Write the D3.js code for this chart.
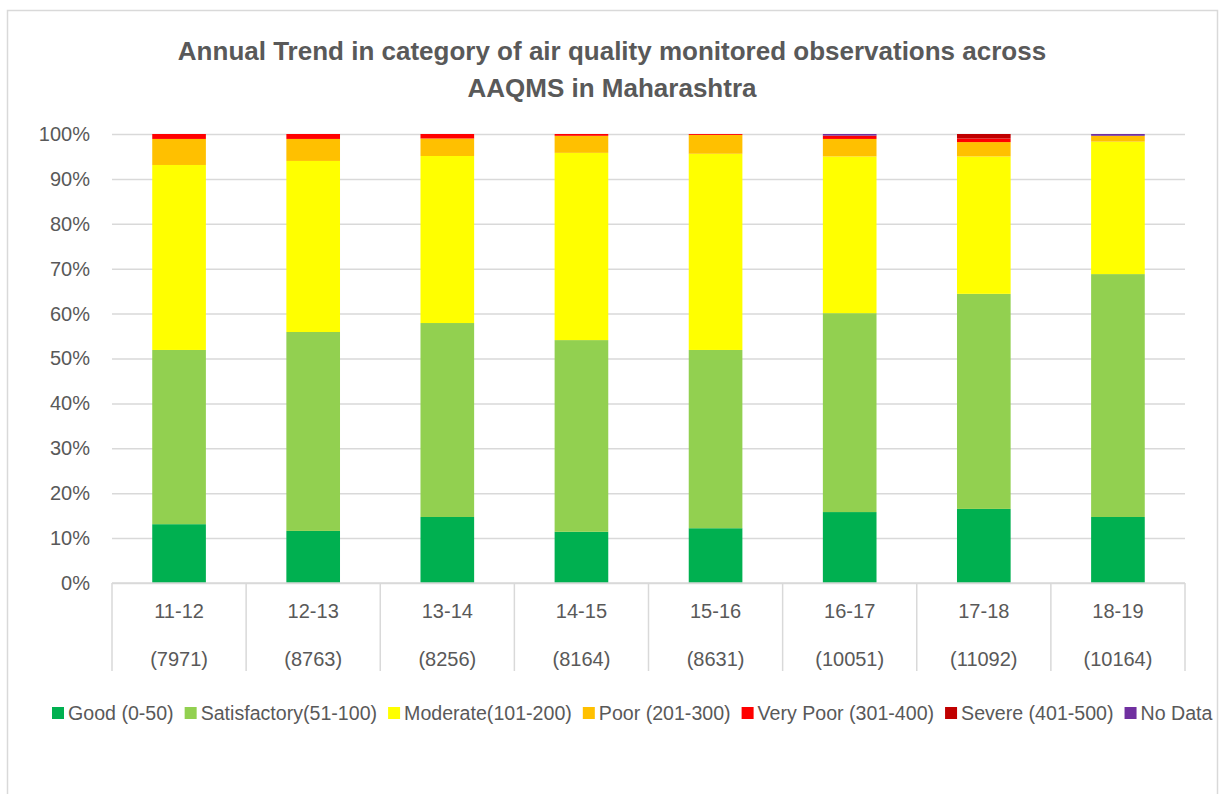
<!DOCTYPE html>
<html>
<head>
<meta charset="utf-8">
<script src="https://cdn.jsdelivr.net/npm/d3@7"></script>
<style>
  body { margin: 0; background: #fff; }
  svg text { font-family: "Liberation Sans", Arial, sans-serif; fill: #595959; }
</style>
</head>
<body>
<svg id="chart" width="1223" height="794"></svg>
<script>
const years = ['11-12', '12-13', '13-14', '14-15', '15-16', '16-17', '17-18', '18-19'];
const counts = ['(7971)', '(8763)', '(8256)', '(8164)', '(8631)', '(10051)', '(11092)', '(10164)'];

const categories = ['Good (0-50)', 'Satisfactory(51-100)', 'Moderate(101-200)', 'Poor (201-300)',
  'Very Poor (301-400)', 'Severe (401-500)', 'No Data'];
const colors = ['#00b050', '#92d050', '#ffff00', '#ffc000', '#ff0000', '#c00000', '#7030a0'];

// share of observations (%) per category
const good         = [13.1, 11.6, 14.7, 11.4, 12.2, 15.8, 16.5, 14.7];
const satisfactory = [38.8, 44.3, 43.2, 42.7, 39.7, 44.3, 47.9, 54.1];
const moderate     = [41.2, 38.1, 37.2, 41.7, 43.7, 34.9, 30.6, 29.5];
const poor         = [5.8, 4.9, 3.9, 3.8, 4.2, 3.9, 3.2, 1.3];
const veryPoor     = [1.1, 1.1, 1.0, 0.4, 0.2, 0.7, 0.8, 0];
const severe       = [0, 0, 0, 0, 0, 0.05, 1.0, 0];
const noData       = [0, 0, 0, 0, 0, 0.35, 0, 0.4];

const yTicks = [0, 0.1, 0.2, 0.3, 0.4, 0.5, 0.6, 0.7, 0.8, 0.9, 1];

const series = [good, satisfactory, moderate, poor, veryPoor, severe, noData];
const rows = years.map((yr, i) => {
  const r = { year: yr };
  categories.forEach((c, k) => { r[c] = series[k][i]; });
  return r;
});

const svg = d3.select('#chart');
const grey = '#d9d9d9';

// outer frame
svg.append('rect')
  .attr('x', 7.5).attr('y', 10.5)
  .attr('width', 1210).attr('height', 800)
  .attr('fill', 'none')
  .attr('stroke', grey)
  .attr('stroke-width', 1.5);

// title
const title = svg.append('text')
  .attr('text-anchor', 'middle')
  .style('font-size', '26px')
  .style('font-weight', 'bold');
title.append('tspan').attr('x', 612).attr('y', 60)
  .text('Annual Trend in category of air quality monitored observations across');
title.append('tspan').attr('x', 612).attr('y', 97)
  .text('AAQMS in Maharashtra');

const plotL = 112, plotR = 1185, plotT = 134, plotB = 583;

const x = d3.scaleBand().domain(years).range([plotL, plotR]).paddingInner(0).paddingOuter(0);
const y = d3.scaleLinear().domain([0, 1]).range([plotB, plotT]);

// gridlines + y labels
const yAxis = svg.append('g')
  .attr('transform', `translate(${plotL},0)`)
  .call(d3.axisLeft(y).tickValues(yTicks).tickFormat(d3.format('.0%')).tickSize(-(plotR - plotL)).tickPadding(22));
yAxis.select('.domain').remove();
yAxis.selectAll('line').attr('stroke', grey).attr('stroke-width', 1.5);
yAxis.selectAll('text').style('font-size', '20px').attr('fill', '#595959');

// stacked bars
const stack = d3.stack().keys(categories).offset(d3.stackOffsetExpand);
const layers = stack(rows);
const barW = x.bandwidth() * 0.4;

svg.append('g').selectAll('g')
  .data(layers)
  .join('g')
  .attr('fill', (d, i) => colors[i])
  .selectAll('rect')
  .data(d => d)
  .join('rect')
  .attr('x', d => x(d.data.year) + (x.bandwidth() - barW) / 2)
  .attr('y', d => y(d[1]))
  .attr('width', barW)
  .attr('height', d => y(d[0]) - y(d[1]));

// category axis
const xAxis = svg.append('g');
xAxis.append('line')
  .attr('x1', plotL).attr('x2', plotR)
  .attr('y1', plotB).attr('y2', plotB)
  .attr('stroke', grey).attr('stroke-width', 1.5);
const edges = years.map(d => x(d)).concat([plotR]);
xAxis.selectAll('.div')
  .data(edges)
  .join('line')
  .attr('x1', d => d).attr('x2', d => d)
  .attr('y1', plotB).attr('y2', 671)
  .attr('stroke', grey).attr('stroke-width', 1.5);
xAxis.selectAll('.yr')
  .data(years)
  .join('text')
  .attr('x', d => x(d) + x.bandwidth() / 2)
  .attr('y', 618)
  .attr('text-anchor', 'middle')
  .style('font-size', '20px')
  .text(d => d);
xAxis.selectAll('.cnt')
  .data(counts)
  .join('text')
  .attr('x', (d, i) => x(years[i]) + x.bandwidth() / 2)
  .attr('y', 666)
  .attr('text-anchor', 'middle')
  .style('font-size', '20px')
  .text(d => d);

// legend
const legend = svg.append('g').attr('transform', 'translate(0,713)');
let lx = 52;
categories.forEach((c, i) => {
  const item = legend.append('g').attr('transform', `translate(${lx},0)`);
  item.append('rect').attr('x', 0).attr('y', -6).attr('width', 12).attr('height', 12).attr('fill', colors[i]);
  const t = item.append('text').attr('x', 16).attr('y', 7).style('font-size', '19.6px').text(c);
  lx += 16 + t.node().getComputedTextLength() + 11;
});
</script>
</body>
</html>
